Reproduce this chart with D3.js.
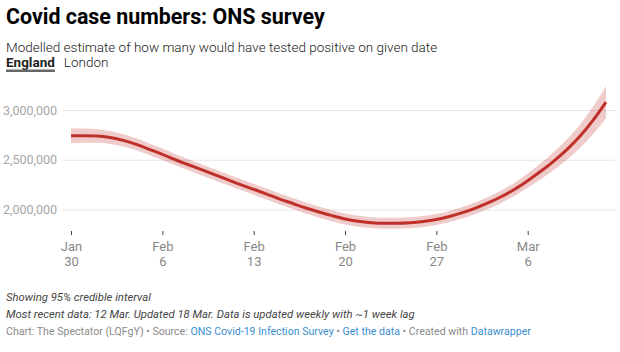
<!DOCTYPE html>
<html>
<head>
<meta charset="utf-8">
<script src="https://cdn.jsdelivr.net/npm/d3@7"></script>
<style>
	body { margin: 0; background: #fff; font-family: Roboto, "Noto Sans", sans-serif; }
	#chart { width: 620px; height: 352px; }
	.axis text { font-family: Roboto, sans-serif; }
</style>
</head>
<body>
<div id="chart"></div>
<script>

// daily estimates, England (thousands)
const dates = ["2021-01-30","2021-01-31","2021-02-01","2021-02-02","2021-02-03","2021-02-04","2021-02-05",
	"2021-02-06","2021-02-07","2021-02-08","2021-02-09","2021-02-10","2021-02-11","2021-02-12",
	"2021-02-13","2021-02-14","2021-02-15","2021-02-16","2021-02-17","2021-02-18","2021-02-19",
	"2021-02-20","2021-02-21","2021-02-22","2021-02-23","2021-02-24","2021-02-25","2021-02-26",
	"2021-02-27","2021-02-28","2021-03-01","2021-03-02","2021-03-03","2021-03-04","2021-03-05",
	"2021-03-06","2021-03-07","2021-03-08","2021-03-09","2021-03-10","2021-03-11","2021-03-12"];

const estimate = [2740,2742,2738,2723,2695,2655,2605,2555,2500,2450,2400,2350,2300,2250,
	2203,2155,2105,2060,2015,1975,1938,1905,1882,1868,1862,1862,1867,1880,
	1900,1930,1968,2014,2068,2131,2204,2290,2384,2487,2602,2735,2895,3080];

const lower = [2665,2670,2670,2658,2633,2595,2547,2498,2444,2395,2345,2295,2245,2195,
	2148,2100,2050,2005,1960,1920,1883,1850,1827,1813,1807,1807,1812,1825,
	1845,1874,1911,1956,2008,2069,2138,2218,2304,2397,2500,2617,2757,2918];

const upper = [2815,2814,2806,2788,2757,2715,2663,2612,2556,2505,2455,2405,2355,2305,
	2258,2210,2160,2115,2070,2030,1993,1960,1937,1923,1917,1917,1922,1935,
	1955,1986,2025,2072,2128,2193,2270,2362,2464,2577,2704,2853,3033,3242];

const yTicks = [2000000, 2500000, 3000000];
const xTicks = ["2021-01-30","2021-02-06","2021-02-13","2021-02-20","2021-02-27","2021-03-06"];


const parseDate = d3.timeParse("%Y-%m-%d");

let data = dates.map((d, i) => ({
	date: parseDate(d),
	value: estimate[i] * 1000,
	lo: lower[i] * 1000,
	hi: upper[i] * 1000
}));

let svg = d3.select("#chart").append("svg")
	.attr("width", 620)
	.attr("height", 352);

// header
svg.append("text")
	.attr("x", 6).attr("y", 24)
	.attr("font-size", 21.4).attr("font-weight", 700)
	.attr("fill", "#000")
	.text("Covid case numbers: ONS survey");

svg.append("text")
	.attr("x", 6).attr("y", 52)
	.attr("font-size", 13.5).attr("font-weight", 300)
	.attr("fill", "#222")
	.text("Modelled estimate of how many would have tested positive on given date");

let eng = svg.append("text")
	.attr("x", 6).attr("y", 67)
	.attr("font-size", 13.5).attr("font-weight", 700)
	.attr("fill", "#222")
	.text("England");
let engW = eng.node().getComputedTextLength();

svg.append("rect")
	.attr("x", 6).attr("y", 69.5)
	.attr("width", engW).attr("height", 2.5)
	.attr("fill", "#666");

svg.append("text")
	.attr("x", 6 + engW + 9).attr("y", 67)
	.attr("font-size", 13.5).attr("font-weight", 300)
	.attr("fill", "#222")
	.text("London");

// scales
let x = d3.scaleTime()
	.domain(d3.extent(data, d => d.date))
	.range([71, 606]);

let y = d3.scaleLinear()
	.domain([2000000, 3000000])
	.range([209.5, 110]);

// y grid + labels
let yAxis = d3.axisLeft(y)
	.tickValues(yTicks)
	.tickSize(553)
	.tickPadding(5)
	.tickFormat(d3.format(","));

svg.append("g")
	.attr("class", "y-axis axis")
	.attr("transform", "translate(615,0)")
	.call(yAxis)
	.call(g => g.select(".domain").remove())
	.call(g => g.selectAll("line").attr("stroke", "#e6e6e6"))
	.call(g => g.selectAll("text")
		.attr("font-size", 12.5)
		.attr("fill", "#a6a6a6"));

// x axis
let fmtMonth = d3.timeFormat("%b");
let fmtDay = d3.timeFormat("%-d");

let xAxis = d3.axisBottom(x)
	.tickValues(xTicks.map(parseDate))
	.tickSize(4)
	.tickFormat("");

let gx = svg.append("g")
	.attr("class", "x-axis axis")
	.attr("transform", "translate(0,231)")
	.call(xAxis);
gx.select(".domain").remove();
gx.selectAll("line").attr("stroke", "#444");

gx.selectAll(".tick").each(function(d) {
	let t = d3.select(this).append("text")
		.attr("text-anchor", "middle")
		.attr("font-size", 13)
		.attr("fill", "#888");
	t.append("tspan").attr("x", 0).attr("y", 19.5).text(fmtMonth(d));
	t.append("tspan").attr("x", 0).attr("y", 34.5).text(fmtDay(d));
});

// credible interval band
let area = d3.area()
	.curve(d3.curveMonotoneX)
	.x(d => x(d.date))
	.y0(d => y(d.lo))
	.y1(d => y(d.hi));

svg.append("path")
	.datum(data)
	.attr("d", area)
	.attr("fill", "#c0302b")
	.attr("opacity", 0.25);

let line = d3.line()
	.curve(d3.curveMonotoneX)
	.x(d => x(d.date))
	.y(d => y(d.value));

svg.append("path")
	.datum(data)
	.attr("d", line)
	.attr("fill", "none")
	.attr("stroke", "#c0302b")
	.attr("stroke-width", 3);

// notes
svg.append("text")
	.attr("x", 6).attr("y", 301)
	.attr("font-size", 11.3).attr("font-style", "italic")
	.attr("fill", "#444")
	.text("Showing 95% credible interval");

svg.append("text")
	.attr("x", 6).attr("y", 318)
	.attr("font-size", 11.3).attr("font-style", "italic")
	.attr("fill", "#444")
	.text("Most recent data: 12 Mar. Updated 18 Mar. Data is updated weekly with ~1 week lag");

let credit = svg.append("text")
	.attr("x", 6).attr("y", 335)
	.attr("font-size", 10.6)
	.attr("fill", "#8a8a8a");
credit.append("tspan").text("Chart: The Spectator (LQFgY) • Source: ");
credit.append("tspan").attr("fill", "#3a8fd0").text("ONS Covid-19 Infection Survey");
credit.append("tspan").text(" • ");
credit.append("tspan").attr("fill", "#3a8fd0").text("Get the data");
credit.append("tspan").text(" • Created with ");
credit.append("tspan").attr("fill", "#3a8fd0").text("Datawrapper");

</script>
</body>
</html>
